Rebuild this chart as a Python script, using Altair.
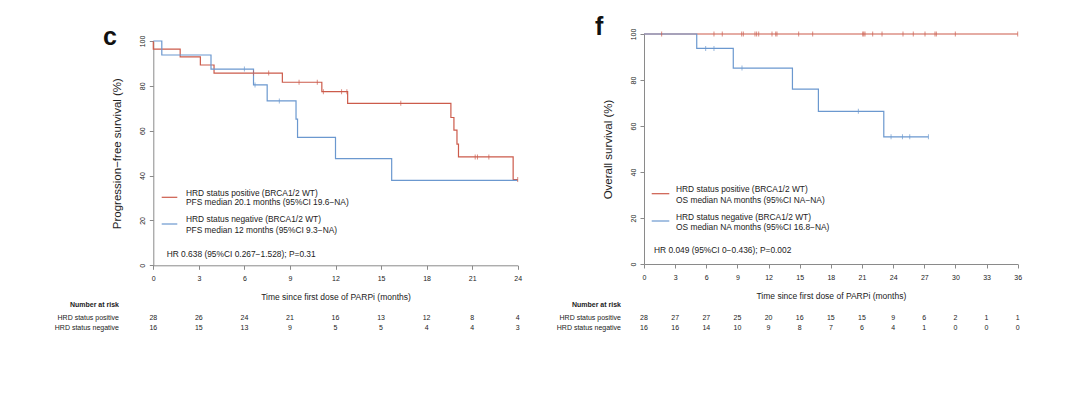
import altair as alt
import pandas as pd

FONT = "Liberation Sans"
RED = "#cc5b4b"
BLUE = "#6b98cf"
INK = "#222222"
AXIS = "#8a8a8a"

# ---------------- panel c : progression-free survival ----------------
c_pos_time = [0, 0, 1.77, 3.1, 4.0, 8.5, 11.1, 12.8, 19.6, 19.8, 20.0, 20.1, 23.7, 24.0]
c_pos_surv = [100, 96.4, 92.9, 89.3, 85.7, 81.6, 77.4, 72.2, 65.9, 60.3, 54.0, 48.3, 38.2, 38.2]
c_neg_time = [0, 0.56, 3.8, 6.6, 7.5, 9.4, 9.5, 12.0, 15.7, 24.0]
c_neg_surv = [100, 93.75, 87.5, 80.4, 73.3, 65.2, 57.0, 47.6, 37.9, 37.9]
c_pos_cens_time = [6.6, 7.6, 9.6, 10.8, 11.2, 12.4, 12.75, 16.3, 21.2, 21.35, 22.1, 24.0]
c_pos_cens_surv = [85.7, 85.7, 81.6, 81.6, 77.4, 77.4, 77.4, 72.2, 48.3, 48.3, 48.3, 38.2]
c_neg_cens_time = [6.0, 6.7, 8.3]
c_neg_cens_surv = [87.5, 80.4, 73.3]
c_risk_time = [0, 3, 6, 9, 12, 15, 18, 21, 24]
c_risk_pos = [28, 26, 24, 21, 16, 13, 12, 8, 4]
c_risk_neg = [16, 15, 13, 9, 5, 5, 4, 4, 3]

# ---------------- panel f : overall survival ----------------
f_pos_time = [0, 36]
f_pos_surv = [100, 100]
f_neg_time = [0, 5.08, 8.6, 14.3, 16.8, 23.1, 27.4]
f_neg_surv = [100, 93.75, 85.2, 76.0, 66.4, 55.3, 55.3]
f_pos_cens_time = [1.7, 6.74, 7.54, 9.41, 9.57, 10.69, 10.85, 11.05, 12.33, 12.69, 12.81,
                   14.9, 16.25, 21.07, 21.17, 21.29, 22.03, 22.93, 24.95, 25.94, 27.07,
                   28.03, 28.16, 29.99, 36.0]
f_pos_cens_surv = [100] * len(f_pos_cens_time)
f_neg_cens_time = [5.94, 6.74, 9.44, 20.65, 23.8, 24.9, 25.6, 27.4]
f_neg_cens_surv = [93.75, 93.75, 85.2, 66.4, 55.3, 55.3, 55.3, 55.3]
f_risk_time = [0, 3, 6, 9, 12, 15, 18, 21, 24, 27, 30, 33, 36]
f_risk_pos = [28, 27, 27, 25, 20, 16, 15, 15, 9, 6, 2, 1, 1]
f_risk_neg = [16, 16, 14, 10, 9, 8, 7, 6, 4, 1, 0, 0, 0]

W, H = 1064, 381
LEG = 8.4
dummy = pd.DataFrame({"a": [0]})
color_enc = alt.Color("grp:N", scale=alt.Scale(domain=["pos", "neg"], range=[RED, BLUE]), legend=None)


def curves(pt, ps, nt, ns):
    rows = []
    for i, (t, s) in enumerate(zip(pt, ps)):
        rows.append({"t": t, "s": s, "grp": "pos", "i": i})
    for i, (t, s) in enumerate(zip(nt, ns)):
        rows.append({"t": t, "s": s, "grp": "neg", "i": i})
    return pd.DataFrame(rows)


def risk(times, pos, neg):
    rows = [{"t": t, "n": str(n), "row": "pos"} for t, n in zip(times, pos)]
    rows += [{"t": t, "n": str(n), "row": "neg"} for t, n in zip(times, neg)]
    return pd.DataFrame(rows)


def label(text, x, y, size=LEG, align="left", weight="normal", color=INK, baseline="middle"):
    return alt.Chart(dummy).mark_text(
        text=text, align=align, baseline=baseline, fontSize=size,
        fontWeight=weight, color=color, font=FONT
    ).encode(x=alt.value(x), y=alt.value(y))


def seg(x1, x2, y, color):
    return alt.Chart(dummy).mark_rule(color=color, strokeWidth=1.2).encode(
        x=alt.value(x1), x2=alt.value(x2), y=alt.value(y))


def panel(tmax, xrange, yrange, ytitle, ytitlepad, line_df, cens_df, risk_df, texts):
    xaxis = alt.Axis(orient="bottom", offset=yrange[0] - H, values=list(range(0, tmax + 1, 3)),
                     title="Time since first dose of PARPi (months)", titleFontSize=8.5,
                     titleFontWeight="normal", titleColor=INK, titlePadding=11,
                     labelFontSize=7, labelColor=INK, labelPadding=5, tickSize=4,
                     domainColor=AXIS, tickColor=AXIS, grid=False, labelFlush=False)
    yaxis = alt.Axis(orient="left", offset=-xrange[0], values=[0, 20, 40, 60, 80, 100],
                     title=ytitle, titleFontSize=11.5, titleFontWeight="normal", titleColor=INK,
                     titlePadding=ytitlepad, labelFontSize=7, labelColor=INK, labelAngle=270,
                     labelAlign="center", labelBaseline="bottom", labelPadding=4, tickSize=4,
                     domainColor=AXIS, tickColor=AXIS, grid=False, labelFlush=False)
    X = alt.X("t:Q", scale=alt.Scale(domain=[0, tmax], range=list(xrange), nice=False), axis=xaxis)
    Y = alt.Y("s:Q", scale=alt.Scale(domain=[0, 100], range=list(yrange), nice=False), axis=yaxis)

    lines = alt.Chart(line_df).mark_line(interpolate="step-after", strokeWidth=1.2).encode(
        x=X, y=Y, color=color_enc, order=alt.Order("i:Q"), detail="grp:N")
    ticks = alt.Chart(cens_df).mark_tick(orient="vertical", size=5, thickness=1).encode(
        x=X, y=Y, color=color_enc)
    rk_pos = alt.Chart(risk_df[risk_df.row == "pos"]).mark_text(
        fontSize=7, color=INK, font=FONT, baseline="middle").encode(
        x=X, y=alt.value(310.3), text="n:N")
    rk_neg = alt.Chart(risk_df[risk_df.row == "neg"]).mark_text(
        fontSize=7, color=INK, font=FONT, baseline="middle").encode(
        x=X, y=alt.value(320.3), text="n:N")
    return alt.layer(lines, ticks, rk_pos, rk_neg, *texts)


c_texts = [
    label("c", 95, 37, size=25, weight="bold", color="#111111", baseline="alphabetic"),
    seg(153.7, 169.3, 189.3, RED),
    label("HRD status positive (BRCA1/2 WT)", 178, 185.3),
    label("PFS median 20.1 months (95%CI 19.6\u2212NA)", 178, 193.7),
    seg(153.7, 169.3, 216, BLUE),
    label("HRD status negative (BRCA1/2 WT)", 178, 211.3),
    label("PFS median 12 months (95%CI 9.3\u2212NA)", 178, 222),
    label("HR 0.638 (95%CI 0.267\u22121.528); P=0.31", 158.7, 246),
    label("Number at risk", 111, 297, size=7, align="right", weight="bold"),
    label("HRD status positive", 111, 310.3, size=7, align="right"),
    label("HRD status negative", 111, 320.3, size=7, align="right"),
]

f_texts = [
    label("f", 587, 27, size=25, weight="bold", color="#111111", baseline="alphabetic"),
    seg(643.7, 661.3, 185.7, RED),
    label("HRD status positive (BRCA1/2 WT)", 668, 181.3),
    label("OS median NA months (95%CI NA\u2212NA)", 668, 192),
    seg(643.7, 661.3, 213, BLUE),
    label("HRD status negative (BRCA1/2 WT)", 668, 208.7),
    label("OS median NA months (95%CI 16.8\u2212NA)", 668, 218.7),
    label("HR 0.049 (95%CI 0\u22120.436); P=0.002", 646, 242),
    label("Number at risk", 613, 297, size=7, align="right", weight="bold"),
    label("HRD status positive", 613, 310.3, size=7, align="right"),
    label("HRD status negative", 613, 320.3, size=7, align="right"),
]

panel_c = panel(24, (145.3, 509.7), (257.3, 33), "Progression\u2212free survival (%)", 16,
                curves(c_pos_time, c_pos_surv, c_neg_time, c_neg_surv),
                curves(c_pos_cens_time, c_pos_cens_surv, c_neg_cens_time, c_neg_cens_surv),
                risk(c_risk_time, c_risk_pos, c_risk_neg), c_texts)
panel_f = panel(36, (636, 1009.7), (256, 26), "Overall survival (%)", 16,
                curves(f_pos_time, f_pos_surv, f_neg_time, f_neg_surv),
                curves(f_pos_cens_time, f_pos_cens_surv, f_neg_cens_time, f_neg_cens_surv),
                risk(f_risk_time, f_risk_pos, f_risk_neg), f_texts)

chart = alt.layer(panel_c, panel_f).resolve_scale(
    x="independent", y="independent"
).resolve_axis(
    x="independent", y="independent"
).properties(
    width=W, height=H, autosize=alt.AutoSizeParams(type="none"), padding=0, background="white"
).configure(font=FONT).configure_view(stroke=None)

chart.save("out.html", embed_options={"renderer": "svg", "actions": False})
